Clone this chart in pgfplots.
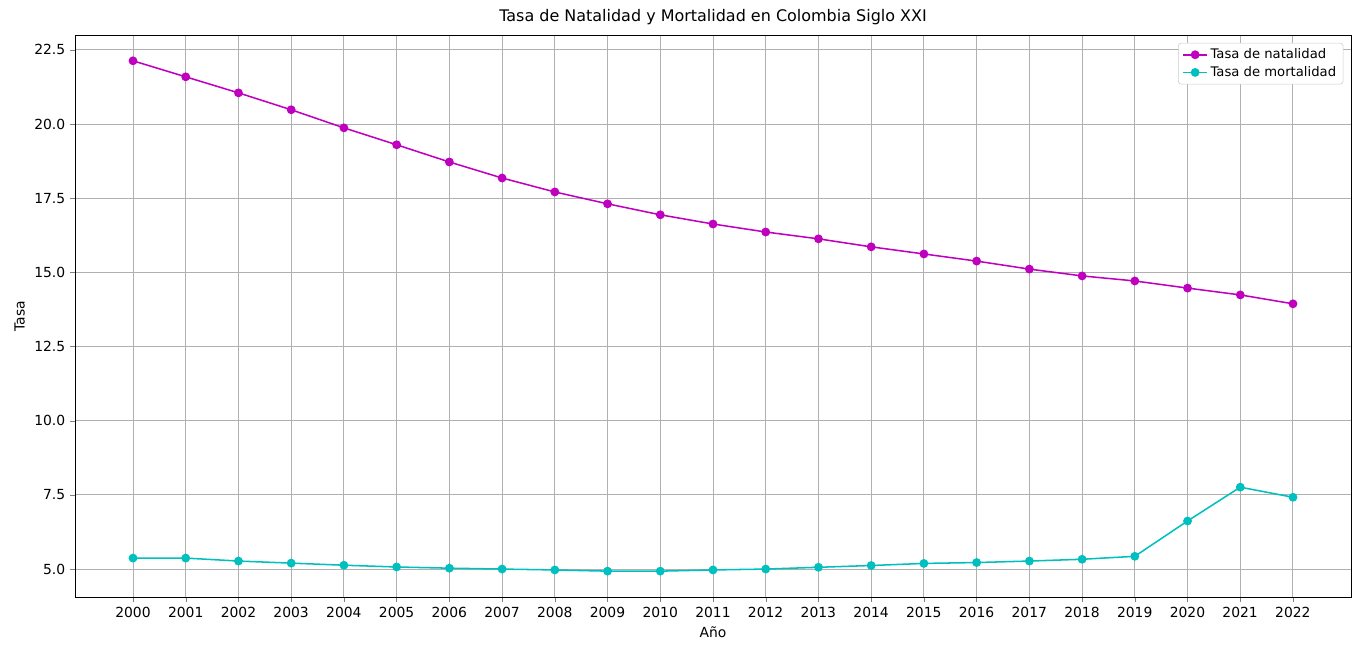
\documentclass[border=0pt]{standalone}
\usepackage{pgfplots}
\pgfplotsset{compat=1.18}
\usepackage{fontspec}
\setmainfont{DejaVu Sans}
\definecolor{mm}{RGB}{191,0,191}
\definecolor{cc}{RGB}{0,191,191}
\begin{document}
\begin{tikzpicture}
\path[use as bounding box] (-54pt,-41.76pt) rectangle (929.5pt,429.8pt);
\begin{axis}[at={(0,0)},anchor=south west,scale only axis,width=918.7pt,height=404.6pt,
 xmin=1998.9,xmax=2023.1,ymin=4.06,ymax=23.0,
 xtick={2000,...,2022},ytick={5,7.5,10,12.5,15,17.5,20,22.5},
 xtick pos=bottom,ytick pos=left,
 /pgf/number format/assume math mode=true,
 xticklabel style={/pgf/number format/1000 sep={}},
 yticklabel style={/pgf/number format/fixed,/pgf/number format/fixed zerofill,/pgf/number format/precision=1},
 font=\fontsize{10pt}{12pt}\selectfont,
 grid=major,major grid style={color=black!31,line width=0.6pt},
 tick align=outside,major tick length=3.5pt,
 title={Tasa de Natalidad y Mortalidad en Colombia Siglo XXI},title style={font=\fontsize{11.5pt}{14pt}\selectfont,yshift=-2pt},
 xlabel={Año},ylabel={Tasa},
 legend cell align=left,
 legend style={at={(0.994,0.986)},anchor=north east,draw=black!20,rounded corners=2pt,font=\fontsize{9.5pt}{12pt}\selectfont},
 ]
\addplot[mm,line width=1.1pt,mark=*,mark size=2.6pt] coordinates {
(2000,22.13)(2001,21.59)(2002,21.05)(2003,20.48)(2004,19.87)(2005,19.30)(2006,18.72)(2007,18.18)(2008,17.71)(2009,17.31)(2010,16.94)(2011,16.63)(2012,16.36)(2013,16.13)(2014,15.86)(2015,15.62)(2016,15.38)(2017,15.11)(2018,14.88)(2019,14.71)(2020,14.47)(2021,14.24)(2022,13.94)};
\addlegendentry{Tasa de natalidad}
\addplot[cc,line width=1.1pt,mark=*,mark size=2.6pt] coordinates {
(2000,5.37)(2001,5.37)(2002,5.27)(2003,5.20)(2004,5.13)(2005,5.07)(2006,5.03)(2007,5.00)(2008,4.97)(2009,4.93)(2010,4.93)(2011,4.97)(2012,5.00)(2013,5.06)(2014,5.12)(2015,5.19)(2016,5.22)(2017,5.27)(2018,5.33)(2019,5.43)(2020,6.62)(2021,7.76)(2022,7.42)};
\addlegendentry{Tasa de mortalidad}
\end{axis}
\end{tikzpicture}
\end{document}
